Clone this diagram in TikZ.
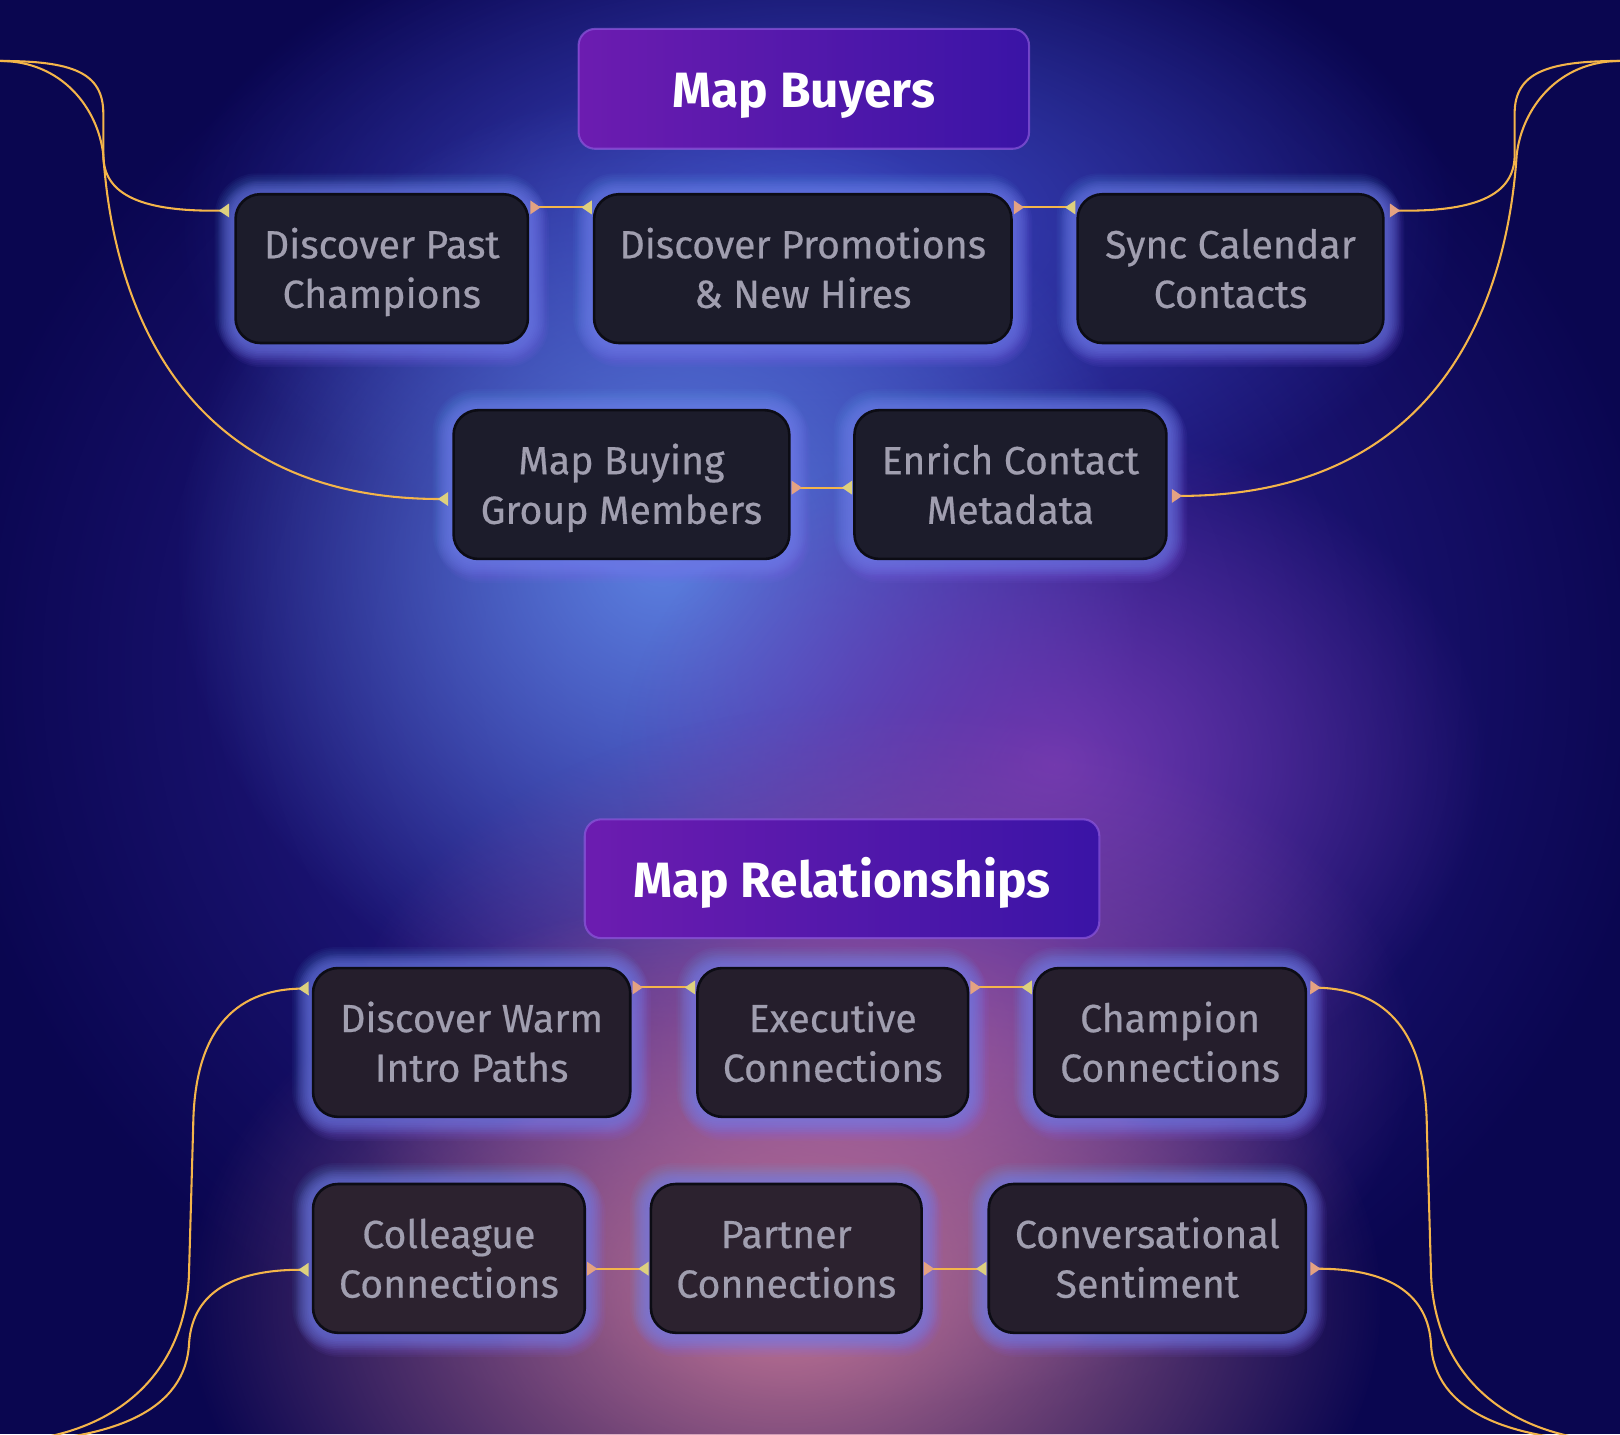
\documentclass[tikz,border=0pt]{standalone}
\usepackage{fontspec}
\setmainfont{Fira Sans}
\newfontfamily\boxfam{Fira Sans}[FakeBold=0.5]
\usetikzlibrary{arrows.meta,calc,fadings}

\definecolor{bgdeep}{HTML}{0A0650}
\definecolor{bgindigo}{HTML}{3226A0}
\definecolor{bgtop}{HTML}{3A46C0}
\definecolor{bgblue}{HTML}{5C80E0}
\definecolor{bgpurple}{HTML}{7038B0}
\definecolor{bgpink}{HTML}{C07494}
\definecolor{bgmagenta}{HTML}{8A4CA4}
\definecolor{boxfillA}{HTML}{1C1C2B}
\definecolor{boxfillB}{HTML}{251E2C}
\definecolor{boxfillC}{HTML}{2C222F}
\definecolor{boxline}{HTML}{0C0C14}
\definecolor{boxtext}{HTML}{A09EAF}
\definecolor{titleL}{HTML}{6C1CB0}
\definecolor{titleR}{HTML}{3A14A6}
\definecolor{titleline}{HTML}{8C58DC}
\definecolor{linkc}{HTML}{F4B54A}
\definecolor{tipeast}{HTML}{E4A282}
\definecolor{tipwest}{HTML}{DDD07E}
\definecolor{glowA}{HTML}{62A8F2}
\definecolor{glowB}{HTML}{8468F0}

\tikzfading[name=softglow, inner color=transparent!0, outer color=transparent!100]

\pgfdeclarelayer{bglayer}
\pgfdeclarelayer{glowlayer}
\pgfsetlayers{bglayer,glowlayer,main}

\newcommand\boxfont{\boxfam\fontsize{38}{48}\selectfont}
\newcommand\titlefont{\bfseries\fontsize{48}{56}\selectfont}
\newcommand\twol[2]{\rule{0pt}{38pt}#1\\#2\rule[-10pt]{0pt}{0pt}}

\tikzset{
  box/.style={rounded corners=24pt, draw=boxline, line width=2.5pt, fill=boxfillA,
    text=boxtext, align=center, font=\boxfont, inner sep=0pt, minimum height=144pt},
  titlebox/.style={rounded corners=16pt, draw=titleline, draw opacity=0.7, line width=2pt,
    left color=titleL, right color=titleR, text=white, font=\titlefont, inner sep=0pt,
    text height=36pt, text depth=0pt},
  link/.style={draw=linkc, line width=2pt},
  tipE/.tip={Triangle[reversed,length=10pt,width=13pt,color=tipeast]},
  tipW/.tip={Triangle[reversed,length=10pt,width=13pt,color=tipwest]},
}

\begin{document}
\begin{tikzpicture}[x=1pt,y=-1pt]
\useasboundingbox (0,0) rectangle (1568,1388);

% background
\begin{pgfonlayer}{bglayer}
  \fill[bgdeep] (0,0) rectangle (1568,1388);
  \fill[bgindigo, path fading=softglow] (780,650) ellipse (840 and 760);
  \fill[bgtop, path fading=softglow] (790,220) ellipse (620 and 330);
  \fill[bgblue, path fading=softglow] (640,540) ellipse (470 and 450);
  \fill[bgpurple, path fading=softglow] (1020,740) ellipse (420 and 330);
  \fill[bgmagenta, path fading=softglow] (850,1020) ellipse (520 and 340);
  \fill[bgpink, path fading=softglow] (760,1260) ellipse (580 and 400);
\end{pgfonlayer}

% titles
\node[titlebox, minimum width=436pt, minimum height=116pt] (t1) at (778,86) {Map Buyers};
\node[titlebox, minimum width=498pt, minimum height=115pt] (t2) at (815,850.5) {Map Relationships};

% Map Buyers boxes
\node[box, minimum width=283pt] (b1) at (369.5,260) {\twol{Discover Past}{Champions}};
\node[box, minimum width=404pt] (b2) at (777,260) {\twol{Discover Promotions}{\& New Hires}};
\node[box, minimum width=296pt] (b3) at (1191,260) {\twol{Sync Calendar}{Contacts}};
\node[box, minimum width=325pt] (b4) at (601.5,469) {\twol{Map Buying}{Group Members}};
\node[box, minimum width=302pt] (b5) at (978,469) {\twol{Enrich Contact}{Metadata}};

% Map Relationships boxes
\node[box, fill=boxfillB, minimum width=307pt] (c1) at (456.5,1009) {\twol{Discover Warm}{Intro Paths}};
\node[box, fill=boxfillB, minimum width=262pt] (c2) at (806,1009) {\twol{Executive}{Connections}};
\node[box, fill=boxfillB, minimum width=263pt] (c3) at (1132.5,1009) {\twol{Champion}{Connections}};
\node[box, fill=boxfillC, minimum width=263pt] (c4) at (434.5,1218) {\twol{Colleague}{Connections}};
\node[box, fill=boxfillC, minimum width=262pt] (c5) at (761,1218) {\twol{Partner}{Connections}};
\node[box, fill=boxfillB, minimum width=307pt] (c6) at (1110.5,1218) {\twol{Conversational}{Sentiment}};

% glows
\begin{pgfonlayer}{glowlayer}
\foreach \n in {b1,b2,b3,b4,b5,c1,c2,c3,c4,c5,c6}{
  \foreach \i in {1,...,10}{
    \pgfmathsetmacro\rr{24+1.7*\i}
    \pgfmathsetmacro\dd{1.7*\i}
    \fill[glowA, opacity=0.05, rounded corners=\rr pt]
      ($(\n.south west)+(-\dd-2,\dd-2)$) rectangle ($(\n.north east)+(\dd-2,-\dd-2)$);
    \fill[glowB, opacity=0.065, rounded corners=\rr pt]
      ($(\n.south west)+(-\dd+2,\dd+5)$) rectangle ($(\n.north east)+(\dd+2,-\dd+5)$);
  }
}
\end{pgfonlayer}

% connectors between boxes
\draw[link, tipE-tipW] ([xshift=1pt,yshift=-14pt]b1.north east) -- ([xshift=-1pt,yshift=-14pt]b2.north west);
\draw[link, tipE-tipW] ([xshift=1pt,yshift=-14pt]b2.north east) -- ([xshift=-1pt,yshift=-14pt]b3.north west);
\draw[link, tipE-tipW] ([xshift=1pt,yshift=-3pt]b4.east) -- ([xshift=-1pt,yshift=-3pt]b5.west);
\draw[link, tipE-tipW] ([xshift=1pt,yshift=-20pt]c1.north east) -- ([xshift=-1pt,yshift=-20pt]c2.north west);
\draw[link, tipE-tipW] ([xshift=1pt,yshift=-20pt]c2.north east) -- ([xshift=-1pt,yshift=-20pt]c3.north west);
\draw[link, tipE-tipW] ([xshift=1pt,yshift=-10pt]c4.east) -- ([xshift=-1pt,yshift=-10pt]c5.west);
\draw[link, tipE-tipW] ([xshift=1pt,yshift=-10pt]c5.east) -- ([xshift=-1pt,yshift=-10pt]c6.west);

% free ends
\coordinate (tl) at (0,59);
\coordinate (tr) at (1568,59);
\coordinate (bl) at (-10,1396);
\coordinate (br) at (1578,1396);

\begin{scope}
\clip (0,0) rectangle (1568,1388);
% top left
\draw[link, -tipW] (tl) .. controls (70,59) and (100,70) .. (100,110) -- (100,150)
  .. controls (100,190) and (140,205) .. ([xshift=-5pt,yshift=-17pt]b1.north west);
\draw[link, -tipW] (tl) .. controls (60,59) and (95,105) .. (100,150)
  .. controls (110,300) and (180,483) .. ([xshift=-4pt,yshift=-14pt]b4.west);
% top right
\draw[link, -tipE] (tr) .. controls (1498,59) and (1466,70) .. (1466,110) -- (1466,150)
  .. controls (1466,190) and (1426,205) .. ([xshift=5pt,yshift=-17pt]b3.north east);
\draw[link, -tipE] (tr) .. controls (1508,59) and (1473,105) .. (1468,150)
  .. controls (1458,300) and (1388,480) .. ([xshift=4pt,yshift=-11pt]b5.east);
% bottom left
\draw[link, -tipW] (bl) .. controls (110,1396) and (181,1330) .. (183,1230) -- (187,1090)
  .. controls (188,1000) and (225,958) .. ([xshift=-3pt,yshift=-21pt]c1.north west);
\draw[link, -tipW] (bl) .. controls (110,1396) and (180,1365) .. (183,1300)
  .. controls (186,1255) and (220,1229) .. ([xshift=-3pt,yshift=-11pt]c4.west);
% bottom right
\draw[link, -tipE] (br) .. controls (1458,1396) and (1387,1330) .. (1385,1230) -- (1381,1090)
  .. controls (1380,1000) and (1343,958) .. ([xshift=3pt,yshift=-20pt]c3.north east);
\draw[link, -tipE] (br) .. controls (1458,1396) and (1388,1365) .. (1385,1300)
  .. controls (1382,1255) and (1348,1228) .. ([xshift=3pt,yshift=-10pt]c6.east);
\end{scope}
\end{tikzpicture}
\end{document}
